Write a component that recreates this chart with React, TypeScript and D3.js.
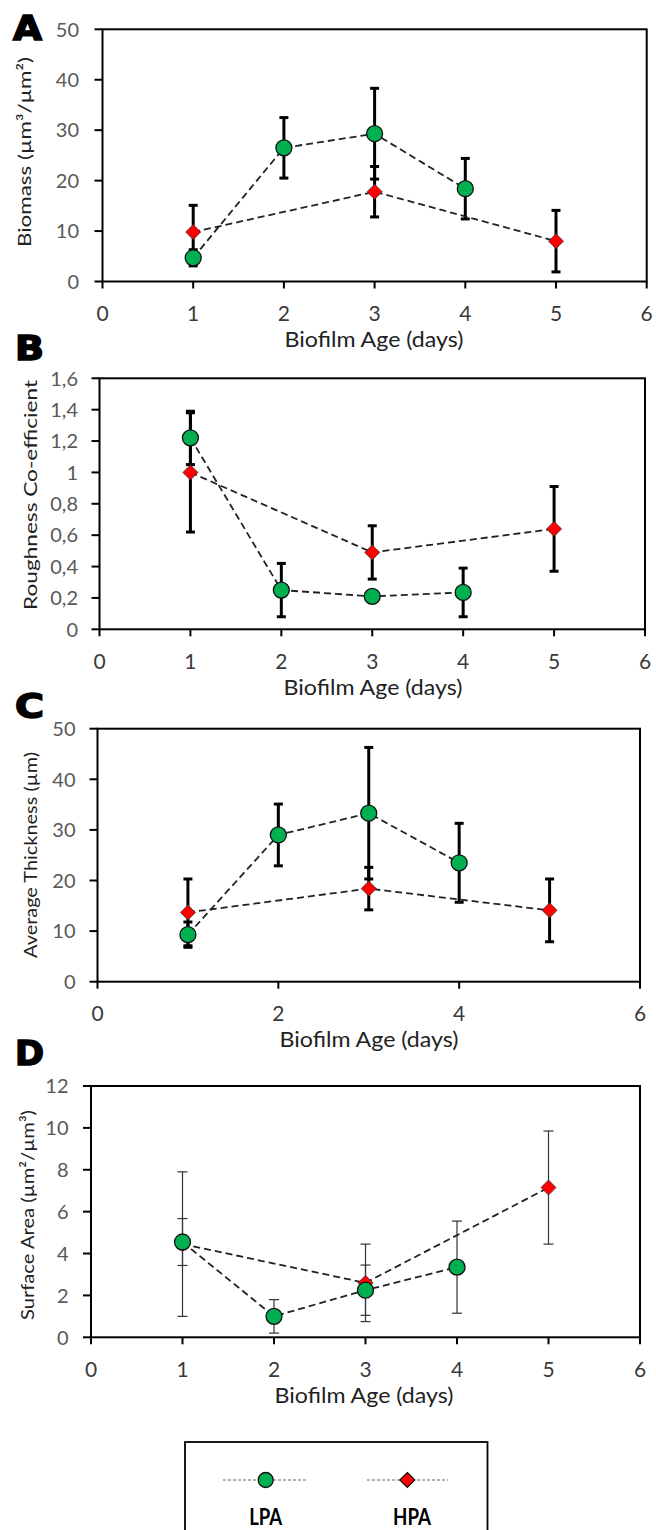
import React from "react";
import * as d3 from "d3";

const lpaDays = [1, 2, 3, 4];
const hpaDays = [1, 3, 5];

const biomassLPA = [4.7, 26.5, 29.3, 18.4];
const biomassLPAErr = [1.6, 6.0, 9.0, 6.0];
const biomassHPA = [9.8, 17.8, 8.0];
const biomassHPAErr = [5.3, 5.0, 6.1];

const roughnessLPA = [1.22, 0.25, 0.21, 0.235];
const roughnessLPAErr = [0.17, 0.17, 0.02, 0.155];
const roughnessHPA = [1.0, 0.49, 0.64];
const roughnessHPAErr = [0.38, 0.17, 0.27];

const thicknessLPA = [9.3, 29.0, 33.3, 23.5];
const thicknessLPAErr = [2.5, 6.1, 13.0, 7.8];
const thicknessHPA = [13.7, 18.4, 14.1];
const thicknessHPAErr = [6.6, 4.2, 6.2];

const surfaceLPA = [4.55, 1.0, 2.25, 3.35];
const surfaceLPAErr = [1.12, 0.8, 1.2, 2.2];
const surfaceHPA = [4.45, 2.6, 7.15];
const surfaceHPAErr = [3.45, 1.85, 2.7];

const biomassTicks = [0, 10, 20, 30, 40, 50];
const roughnessTicks = [0, 0.2, 0.4, 0.6, 0.8, 1, 1.2, 1.4, 1.6];
const thicknessTicks = [0, 10, 20, 30, 40, 50];
const surfaceTicks = [0, 2, 4, 6, 8, 10, 12];
const xTicksAll = [0, 1, 2, 3, 4, 5, 6];
const xTicksEven = [0, 2, 4, 6];

const FONT = "Lato, 'Open Sans', sans-serif";
const GREEN = "#00b050";
const RED = "#ff0000";

type PanelCfg = {
  letter: string;
  letterX: number;
  letterY: number;
  left: number;
  right: number;
  top: number;
  bottom: number;
  yMax: number;
  yTicks: number[];
  xTicks: number[];
  yTitle: string;
  yTitleX: number;
  yTitleY: number;
  yTitleLen: number;
  tickRight: number;
  xTitleX: number;
  lpa: number[];
  lpaErr: number[];
  hpa: number[];
  hpaErr: number[];
  thinErr: boolean;
  fmt: (v: number) => string;
};

const panels: PanelCfg[] = [
  {
    letter: "A", letterX: 13, letterY: 40, left: 102.5, right: 646.7, top: 29.3, bottom: 281.5,
    yMax: 50, yTicks: biomassTicks, xTicks: xTicksAll,
    yTitle: "Biomass (µm³/µm²)", yTitleX: 25, yTitleY: 152, yTitleLen: 190, tickRight: 79,
    xTitleX: 374,
    lpa: biomassLPA, lpaErr: biomassLPAErr, hpa: biomassHPA, hpaErr: biomassHPAErr,
    thinErr: false, fmt: (v) => String(v),
  },
  {
    letter: "B", letterX: 15, letterY: 360, left: 99.5, right: 645, top: 378.3, bottom: 629.3,
    yMax: 1.6, yTicks: roughnessTicks, xTicks: xTicksAll,
    yTitle: "Roughness Co-efficient", yTitleX: 31, yTitleY: 495, yTitleLen: 230, tickRight: 78,
    xTitleX: 373,
    lpa: roughnessLPA, lpaErr: roughnessLPAErr, hpa: roughnessHPA, hpaErr: roughnessHPAErr,
    thinErr: false, fmt: (v) => String(+v.toFixed(1)).replace(".", ","),
  },
  {
    letter: "C", letterX: 15, letterY: 718, left: 97.5, right: 640, top: 728.7, bottom: 981.7,
    yMax: 50, yTicks: thicknessTicks, xTicks: xTicksEven,
    yTitle: "Average Thickness (µm)", yTitleX: 31, yTitleY: 855, yTitleLen: 206, tickRight: 75.5,
    xTitleX: 369,
    lpa: thicknessLPA, lpaErr: thicknessLPAErr, hpa: thicknessHPA, hpaErr: thicknessHPAErr,
    thinErr: false, fmt: (v) => String(v),
  },
  {
    letter: "D", letterX: 15, letterY: 1065, left: 91, right: 640, top: 1086, bottom: 1337.3,
    yMax: 12, yTicks: surfaceTicks, xTicks: xTicksAll,
    yTitle: "Surface Area (µm²/µm³)", yTitleX: 28, yTitleY: 1215, yTitleLen: 210, tickRight: 68.5,
    xTitleX: 364,
    lpa: surfaceLPA, lpaErr: surfaceLPAErr, hpa: surfaceHPA, hpaErr: surfaceHPAErr,
    thinErr: true, fmt: (v) => String(v),
  },
];

function diamond(x: number, y: number, h: number) {
  return `M${x},${y - h}L${x + h},${y}L${x},${y + h}L${x - h},${y}Z`;
}

function Panel({ p }: { p: PanelCfg }) {
  const x = d3.scaleLinear().domain([0, 6]).range([p.left, p.right]);
  const y = d3.scaleLinear().domain([0, p.yMax]).range([p.bottom, p.top]);
  const line = d3.line<[number, number]>().x((d) => x(d[0])).y((d) => y(d[1]));
  const lpaPts: [number, number][] = lpaDays.map((d, i) => [d, p.lpa[i]]);
  const hpaPts: [number, number][] = hpaDays.map((d, i) => [d, p.hpa[i]]);
  const errW = p.thinErr ? 1.2 : 3;
  const capHalf = p.thinErr ? 5 : 4.5;
  const errColor = p.thinErr ? "#333" : "#000";

  const errBars = (days: number[], vals: number[], errs: number[], key: string) =>
    days.map((d, i) => {
      const xx = x(d);
      const y1 = y(vals[i] + errs[i]);
      const y0 = y(Math.max(0, vals[i] - errs[i]));
      return (
        <g key={key + i} stroke={errColor} strokeWidth={errW}>
          <line x1={xx} x2={xx} y1={y1} y2={y0} />
          <line x1={xx - capHalf} x2={xx + capHalf} y1={y1} y2={y1} />
          <line x1={xx - capHalf} x2={xx + capHalf} y1={y0} y2={y0} />
        </g>
      );
    });

  return (
    <g>
      <text
        x={p.letterX}
        y={p.letterY}
        fontFamily="'DejaVu Sans', sans-serif"
        fontWeight={900}
        fontSize={34}
        stroke="#000"
        strokeWidth={1.6}
        textLength={29}
        lengthAdjust="spacingAndGlyphs"
      >
        {p.letter}
      </text>
      <rect
        x={p.left}
        y={p.top}
        width={p.right - p.left}
        height={p.bottom - p.top}
        fill="none"
        stroke="#000"
        strokeWidth={2}
      />
      {p.yTicks.map((t) => (
        <g key={"y" + t}>
          <line x1={p.left - 8} x2={p.left} y1={y(t)} y2={y(t)} stroke="#000" strokeWidth={2} />
          <text
            x={p.tickRight}
            y={y(t)}
            dy="0.36em"
            textAnchor="end"
            fontFamily={FONT}
            fontSize={20}
            fill="#595959"
          >
            {p.fmt(t)}
          </text>
        </g>
      ))}
      {p.xTicks.map((t) => (
        <g key={"x" + t}>
          <line x1={x(t)} x2={x(t)} y1={p.bottom} y2={p.bottom + 7} stroke="#000" strokeWidth={2} />
          <text
            x={x(t)}
            y={p.bottom + 32}
            dy="0.36em"
            textAnchor="middle"
            fontFamily={FONT}
            fontSize={21}
            fill="#3a3a3a"
          >
            {t}
          </text>
        </g>
      ))}
      <text
        x={p.xTitleX}
        y={p.bottom + 58}
        dy="0.36em"
        textAnchor="middle"
        fontFamily={FONT}
        fontSize={20.5}
        fill="#222"
        textLength={179}
        lengthAdjust="spacingAndGlyphs"
      >
        Biofilm Age (days)
      </text>
      <text
        transform={`translate(${p.yTitleX},${p.yTitleY}) rotate(-90)`}
        dy="0.36em"
        textAnchor="middle"
        fontFamily={FONT}
        fontSize={17.5}
        fill="#222"
        textLength={p.yTitleLen}
        lengthAdjust="spacingAndGlyphs"
      >
        {p.yTitle}
      </text>
      {errBars(hpaDays, p.hpa, p.hpaErr, "he")}
      {errBars(lpaDays, p.lpa, p.lpaErr, "le")}
      <path d={line(hpaPts) || ""} fill="none" stroke="#222" strokeWidth={1.8} strokeDasharray="7,4" />
      <path d={line(lpaPts) || ""} fill="none" stroke="#222" strokeWidth={1.8} strokeDasharray="7,4" />
      {hpaPts.map((d, i) => (
        <path key={"hm" + i} d={diamond(x(d[0]), y(d[1]), 7.5)} fill={RED} stroke="#333" strokeWidth={0.8} />
      ))}
      {lpaPts.map((d, i) => (
        <circle key={"lm" + i} cx={x(d[0])} cy={y(d[1])} r={8} fill={GREEN} stroke="#111" strokeWidth={1.3} />
      ))}
    </g>
  );
}

export default function App() {
  return (
    <svg
      width={656}
      height={1530}
      style={{ position: "absolute", left: 0, top: 0, background: "#fff" }}
    >
      <rect x={0} y={0} width={656} height={1530} fill="#fff" />
      {panels.map((p) => (
        <Panel key={p.letter} p={p} />
      ))}
      <rect x={185} y={1442} width={302.5} height={120} fill="none" stroke="#000" strokeWidth={1.8} />
      <line x1={223} x2={306} y1={1480} y2={1480} stroke="#666" strokeWidth={1} strokeDasharray="3,2" />
      <circle cx={265.7} cy={1480} r={7.5} fill={GREEN} stroke="#111" strokeWidth={1.3} />
      <line x1={367} x2={448} y1={1480} y2={1480} stroke="#666" strokeWidth={1} strokeDasharray="3,2" />
      <path d={diamond(407.3, 1480, 7.5)} fill={RED} stroke="#111" strokeWidth={1.2} />
      <text x={265.7} y={1517} dy="0.36em" textAnchor="middle" fontFamily={FONT} fontWeight={700} fontSize={22} fill="#000" textLength={33} lengthAdjust="spacingAndGlyphs">
        LPA
      </text>
      <text x={412} y={1517} dy="0.36em" textAnchor="middle" fontFamily={FONT} fontWeight={700} fontSize={22} fill="#000" textLength={38} lengthAdjust="spacingAndGlyphs">
        HPA
      </text>
    </svg>
  );
}
